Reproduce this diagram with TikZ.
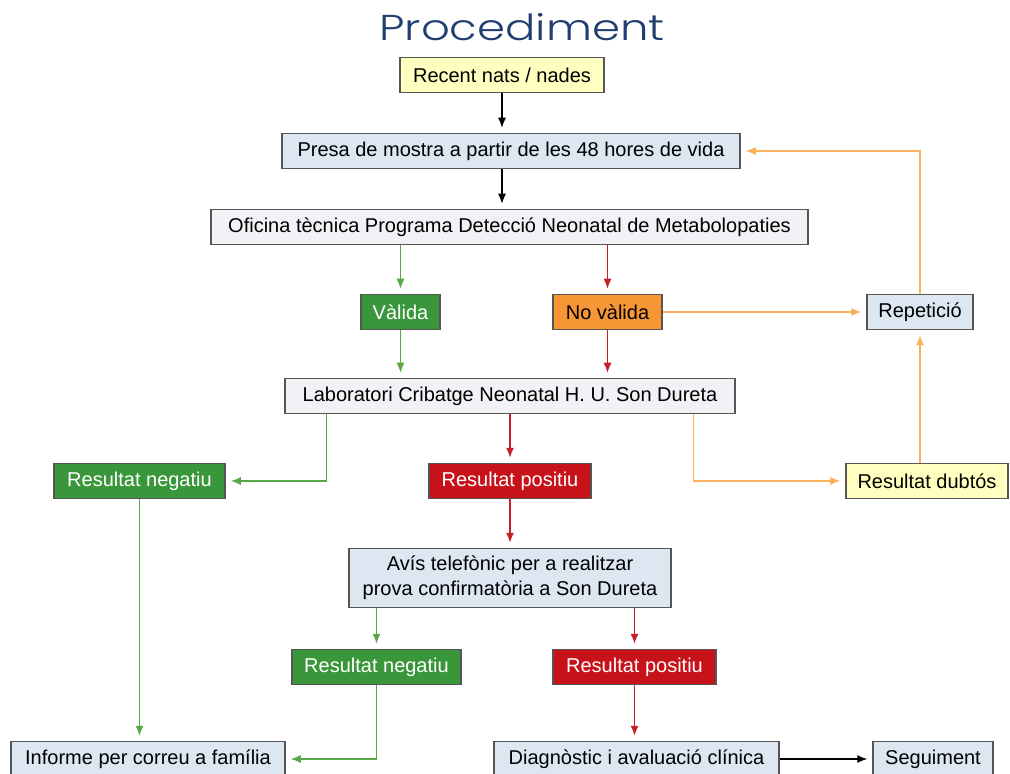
\documentclass[tikz,border=0pt]{standalone}
\usepackage{fontspec}
\setmainfont{Liberation Sans}
\newfontfamily\titlefont[FakeStretch=1.25, UprightFont=* Light]{Poppins}
\usepackage{tikz}
\usetikzlibrary{shapes, arrows.meta, positioning}

\definecolor{titleblue}{RGB}{32,62,112}
\definecolor{boxline}{RGB}{85,85,85}
\definecolor{boxgreen}{RGB}{58,150,58}
\definecolor{boxred}{RGB}{200,18,26}
\definecolor{boxorange}{RGB}{247,150,52}
\definecolor{boxblue}{RGB}{220,231,242}
\definecolor{boxgray}{RGB}{242,242,246}
\definecolor{boxyellow}{RGB}{255,255,192}
\definecolor{arrgreen}{RGB}{88,168,72}
\definecolor{arrred}{RGB}{200,30,40}
\definecolor{arrorange}{RGB}{250,176,92}

\begin{document}
\begin{tikzpicture}[x=0.5pt, y=-0.5pt,
    font=\fontsize{10}{12.5}\selectfont,
    box/.style={draw=boxline, line width=0.75pt, minimum height=17.5pt,
        inner sep=2pt, text centered},
    arr/.style={line width=0.65pt, shorten >=2.5pt,
        -{Latex[length=5pt,width=4pt]}}]

\useasboundingbox (0,0) rectangle (1010,774);

% Title
\node[text=titleblue, font=\titlefont\fontsize{18}{20}\selectfont] (title) at (522,27) {Procediment};

% Start block
\node[box, fill=boxyellow, minimum width=102pt] (block1) at (502,75) {Recent nats / nades};

% Sample
\node[box, fill=boxblue, minimum width=229pt] (block2) at (511,151) {Presa de mostra a partir de les 48 hores de vida};

% Office
\node[box, fill=boxgray, minimum width=298.5pt] (block3) at (509.5,227) {Oficina tècnica Programa Detecció Neonatal de Metabolopaties};

% Valid / not valid
\node[box, fill=boxgreen, text=white, minimum width=39.5pt] (block4) at (400.5,312) {Vàlida};

\node[box, fill=boxorange, minimum width=54.5pt] (block5) at (607.5,312) {No vàlida};

\node[box, fill=boxblue, minimum width=53pt] (block6) at (920,312) {Repetició};

% Laboratory
\node[box, fill=boxgray, minimum width=225pt] (block7) at (510,396) {Laboratori Cribatge Neonatal H. U. Son Dureta};

% First results
\node[box, fill=boxgreen, text=white, minimum width=85.5pt] (block8) at (139.5,481) {Resultat negatiu};

\node[box, fill=boxred, text=white, minimum width=81pt] (block9) at (510,481) {Resultat positiu};

\node[box, fill=boxyellow, minimum width=81pt] (block10) at (927,481) {Resultat dubtós};

% Phone call
\node[box, fill=boxblue, minimum width=161pt, minimum height=29.5pt, align=center] (block11) at (510,578) {Avís telefònic per a realitzar\\prova confirmatòria a Son Dureta};

% Confirmation results
\node[box, fill=boxgreen, text=white, minimum width=84.5pt] (block12) at (376.5,667) {Resultat negatiu};

\node[box, fill=boxred, text=white, minimum width=81.5pt] (block13) at (634.5,667) {Resultat positiu};

% End blocks
\node[box, fill=boxblue, minimum width=137pt] (block14) at (148,759) {Informe per correu a família};

\node[box, fill=boxblue, minimum width=142.5pt] (block15) at (636.5,759) {Diagnòstic i avaluació clínica};

\node[box, fill=boxblue, minimum width=60pt] (block16) at (933,759) {Seguiment};

% Arrows
\draw[arr] (block1.south) -- (block1.south |- block2.north);
\draw[arr] (block1.south |- block2.south) -- (block1.south |- block3.north);
\draw[arr] (block15) -- (block16);

\draw[arr, arrgreen] (block4 |- block3.south) -- (block4.north);
\draw[arr, arrgreen] (block4.south) -- (block4 |- block7.north);
\draw[arr, arrgreen] ([xshift=21pt]block7.south west) |- (block8.east);
\draw[arr, arrgreen] (block8.south) -- (block8 |- block14.north);
\draw[arr, arrgreen] (block12 |- block11.south) -- (block12.north);
\draw[arr, arrgreen] (block12.south) |- (block14.east);

\draw[arr, arrred] (block5 |- block3.south) -- (block5.north);
\draw[arr, arrred] (block5.south) -- (block5 |- block7.north);
\draw[arr, arrred] (block7) -- (block9);
\draw[arr, arrred] (block9) -- (block11);
\draw[arr, arrred] (block13 |- block11.south) -- (block13.north);
\draw[arr, arrred] (block13.south) -- (block13 |- block15.north);

\draw[arr, arrorange] (block5) -- (block6);
\draw[arr, arrorange] (block6.north) |- (block2.east);
\draw[arr, arrorange] ([xshift=-21pt]block7.south east) |- (block10.west);
\draw[arr, arrorange] (block6 |- block10.north) -- (block6.south);

\end{tikzpicture}
\end{document}
